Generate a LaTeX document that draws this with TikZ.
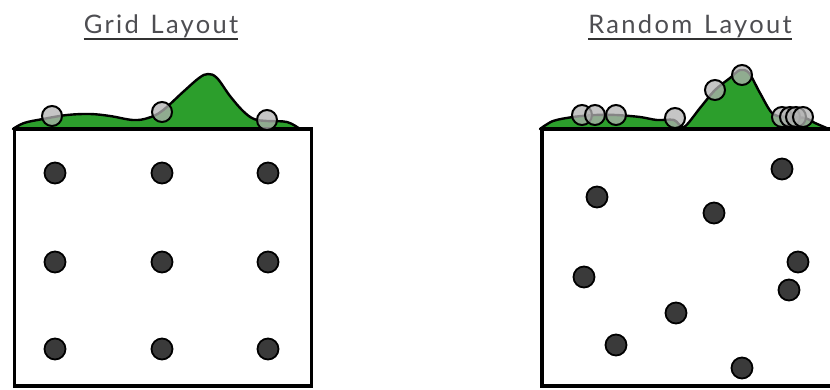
\documentclass[tikz,border=0pt]{standalone}
\usepackage{fontspec}
\setmainfont{Lato}
\definecolor{dens}{RGB}{44,158,44}
\definecolor{dotgray}{RGB}{58,58,58}
\definecolor{titlegray}{RGB}{78,78,82}
\definecolor{ulgray}{RGB}{50,50,50}
\begin{document}
\begin{tikzpicture}[x=1pt,y=-1pt,
  dot/.style={circle,fill=dotgray,draw=black,line width=1.8pt,minimum size=21pt,inner sep=0pt},
  ring/.style={circle,fill=gray!60,fill opacity=0.75,draw=black,draw opacity=1,line width=2pt,minimum size=20pt,inner sep=0pt},
  densfill/.style={fill=dens,draw=black,line width=2.4pt,line join=round},
  panel/.style={draw=black,line width=3.2pt,fill=white},
  title/.style={font=\fontsize{25.5}{30}\selectfont\addfontfeatures{LetterSpace=9},text=titlegray,inner sep=0pt,anchor=base},
  uline/.style={draw=ulgray,line width=2.6pt}]
\useasboundingbox (0,0) rectangle (830,389);
% ---------- titles ----------
\node[title] (t1) at (161,33) {Grid\hspace{3pt} Layout};
\draw[uline] ([yshift=-6pt]t1.base west) -- ([yshift=-6pt]t1.base east);
\node[title] (t2) at (690,33) {Random\hspace{3pt} Layout};
\draw[uline] ([yshift=-6pt]t2.base west) -- ([yshift=-6pt]t2.base east);
% ---------- left density ----------
\filldraw[densfill] plot[smooth,tension=0.6] coordinates {(13,129) (24,123) (43,119) (67,115) (90,114) (110,116) (133,120) (148,118) (162,111) (183,92) (199,78) (208,74) (217,78) (230,96) (243,111) (254,119) (267,121) (287,122) (300,129)} -- cycle;
% ---------- right density ----------
\filldraw[densfill] plot[smooth,tension=0.5] coordinates {(540,129) (553,121) (573,117) (595,115) (616,115) (640,117) (657,120) (674,120) (684,127) (700,108) (715,90) (730,78) (740,70) (749,73) (760,93) (773,114) (790,117) (805,118) (815,123) (829,129)} -- cycle;
% ---------- panels ----------
\node[panel,minimum width=297pt,minimum height=257pt,inner sep=0pt] (p1) at (163,257.5) {};
\node[panel,minimum width=300pt,minimum height=257pt,inner sep=0pt] (p2) at (692,257.5) {};
% ---------- rug rings left ----------
\node[ring] (r1) at (52,116) {};
\node[ring] (r2) at (162,112) {};
\node[ring] (r3) at (267,120) {};
% ---------- rug rings right ----------
\node[ring] (s1) at (582,115) {};
\node[ring] (s2) at (595,115) {};
\node[ring] (s3) at (616,115) {};
\node[ring] (s4) at (675,118) {};
\node[ring] (s5) at (715,90) {};
\node[ring] (s6) at (742,75) {};
\node[ring] (s7) at (782,117) {};
\node[ring] (s8) at (790,117) {};
\node[ring] (s9) at (796,117) {};
\node[ring] (s10) at (803,117) {};
% ---------- grid dots ----------
\foreach \c/\x in {a/55,b/162,c/268}{
  \foreach \r/\y in {1/173,2/262,3/349}{
    \node[dot] (g\c\r) at (\x,\y) {};
  }
}
% ---------- random dots ----------
\node[dot] (d1) at (782,169) {};
\node[dot] (d2) at (597,197) {};
\node[dot] (d3) at (714,213) {};
\node[dot] (d4) at (798,262) {};
\node[dot] (d5) at (584,277) {};
\node[dot] (d6) at (789,290) {};
\node[dot] (d7) at (676,313) {};
\node[dot] (d8) at (616,345) {};
\node[dot] (d9) at (742,368) {};
\end{tikzpicture}
\end{document}
